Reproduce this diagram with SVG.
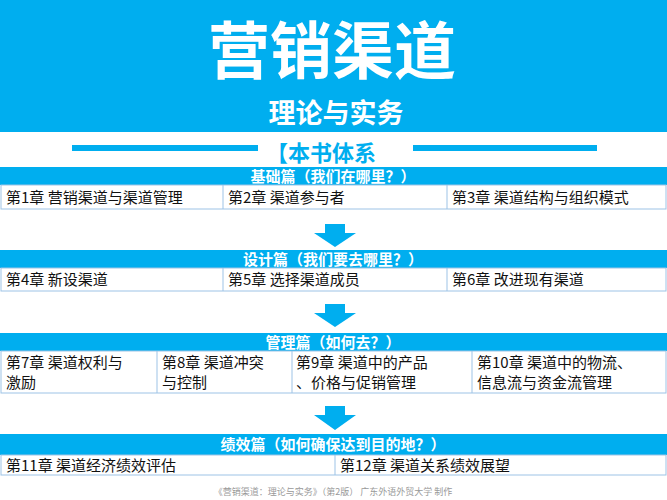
<svg xmlns="http://www.w3.org/2000/svg" width="667" height="500" viewBox="0 0 667 500">
<style>
.hd{fill:#00aeef}
.row{fill:#fff;stroke:#9dc3e6;stroke-width:1}
.ht{font-family:"Noto Sans CJK SC",sans-serif;font-weight:bold;font-size:15px;fill:#fff;text-anchor:middle}
.ct{font-family:"Noto Sans CJK SC",sans-serif;font-size:15px;fill:#111}
.div{stroke:#9dc3e6;stroke-width:1}
.ar{fill:#00aeef}
</style>
<rect x="0" y="0" width="667" height="132" fill="#00aeef"/>
<text x="332" y="74" font-family="Noto Sans CJK SC,sans-serif" font-weight="bold" font-size="62" fill="#fff" text-anchor="middle">营销渠道</text>
<text x="336" y="123" font-family="Noto Sans CJK SC,sans-serif" font-weight="bold" font-size="27" fill="#fff" text-anchor="middle">理论与实务</text>
<rect x="72" y="145" width="186" height="6" fill="#00aeef"/>
<rect x="413" y="145" width="184" height="6" fill="#00aeef"/>
<text x="266" y="161" font-family="Noto Sans CJK SC,sans-serif" font-weight="bold" font-size="22" fill="#00aeef">【本书体系</text>
<g id="sec1">
<rect class="hd" x="0" y="167" width="667" height="18"/>
<text class="ht" x="333" y="182">基础篇（我们在哪里？）</text>
<rect class="row" x="1" y="185" width="665" height="24"/>
<line class="div" x1="223" y1="185" x2="223" y2="209"/><line class="div" x1="447" y1="185" x2="447" y2="209"/>
<text class="ct" x="6" y="203">第1章  营销渠道与渠道管理</text>
<text class="ct" x="228" y="203">第2章  渠道参与者</text>
<text class="ct" x="452" y="203">第3章  渠道结构与组织模式</text>
</g>
<g id="sec2">
<rect class="hd" x="0" y="250" width="667" height="18"/>
<text class="ht" x="333" y="265">设计篇（我们要去哪里？）</text>
<rect class="row" x="1" y="268" width="665" height="23"/>
<line class="div" x1="223" y1="268" x2="223" y2="291"/><line class="div" x1="447" y1="268" x2="447" y2="291"/>
<text class="ct" x="6" y="285">第4章  新设渠道</text>
<text class="ct" x="228" y="285">第5章  选择渠道成员</text>
<text class="ct" x="452" y="285">第6章  改进现有渠道</text>
</g>
<g id="sec3">
<rect class="hd" x="0" y="333" width="667" height="18"/>
<text class="ht" x="333" y="348">管理篇（如何去？）</text>
<rect class="row" x="1" y="351" width="665" height="42"/>
<line class="div" x1="157" y1="351" x2="157" y2="393"/><line class="div" x1="292" y1="351" x2="292" y2="393"/><line class="div" x1="472" y1="351" x2="472" y2="393"/>
<text class="ct" x="6" y="368">第7章  渠道权利与</text><text class="ct" x="6" y="388">激励</text>
<text class="ct" x="162" y="368">第8章  渠道冲突</text><text class="ct" x="162" y="388">与控制</text>
<text class="ct" x="296" y="368">第9章  渠道中的产品</text><text class="ct" x="296" y="388">、价格与促销管理</text>
<text class="ct" x="477" y="368">第10章  渠道中的物流、</text><text class="ct" x="477" y="388">信息流与资金流管理</text>
</g>
<g id="sec4">
<rect class="hd" x="0" y="434" width="667" height="21"/>
<text class="ht" x="333" y="450">绩效篇（如何确保达到目的地？）</text>
<rect class="row" x="1" y="455" width="665" height="20"/>
<line class="div" x1="335" y1="455" x2="335" y2="475"/>
<text class="ct" x="6" y="471">第11章  渠道经济绩效评估</text>
<text class="ct" x="340" y="471">第12章  渠道关系绩效展望</text>
</g>
<g id="connectors">
<polygon class="ar" points="325,224 345,224 345,233 356,233 335,247 314,233 325,233"/>
<polygon class="ar" points="325,304 345,304 345,313 356,313 335,327 314,313 325,313"/>
<polygon class="ar" points="325,406 345,406 345,415 356,415 335,430 314,415 325,415"/>
</g>
<text x="333" y="495" font-family="Noto Sans CJK SC,sans-serif" font-size="9" fill="#999" text-anchor="middle">《营销渠道：理论与实务》（第2版） 广东外语外贸大学 制作</text>
</svg>
